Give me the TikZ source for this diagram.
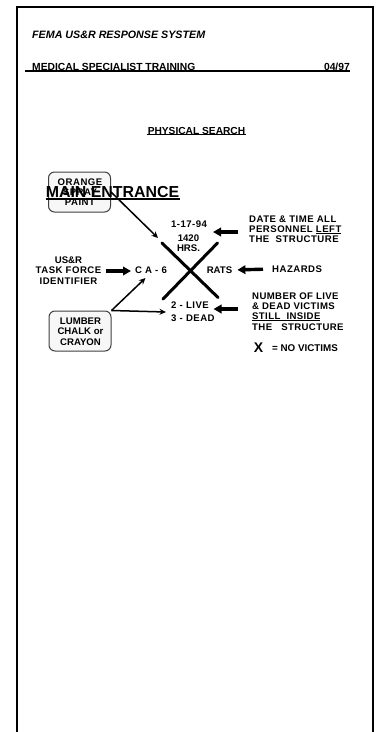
\documentclass[tikz,border=0pt]{standalone}
\usepackage{fontspec}
\setmainfont{Liberation Sans}
\usetikzlibrary{arrows.meta}
\tikzset{
  x=1pt,y=-1pt,
  lbl/.style={font=\bfseries\fontsize{9.6}{10.3}\selectfont,inner sep=0pt,align=center,text=black},
  rlbl/.style={font=\bfseries\fontsize{9.6}{10.2}\selectfont,inner sep=0pt,align=left,anchor=north west,text=black},
  hdr/.style={font=\bfseries\fontsize{10.3}{10.3}\selectfont,inner sep=0pt},
  rbox/.style={draw=black!75,line width=1pt,rounded corners=6pt,fill=black!3,minimum width=62pt,minimum height=40pt,inner sep=0pt},
  thick arrow/.style={line width=3.4pt,-{Triangle[length=8pt,width=8.5pt]}},
  thin arrow/.style={line width=1.5pt,-{Stealth[length=6.5pt,width=6pt]}},
  xstroke/.style={line width=3pt,line cap=round},
  rule/.style={line width=1.7pt}
}
\newcommand{\trk}[1]{{\addfontfeatures{LetterSpace=5}#1}}
\newcommand{\trkr}[1]{{\addfontfeatures{LetterSpace=4}#1}}
\newsavebox{\ulbox}
\newcommand{\tightul}[1]{\sbox{\ulbox}{#1}\rlap{\rule[-1.2pt]{\wd\ulbox}{0.7pt}}\usebox{\ulbox}}
\begin{document}
\begin{tikzpicture}
\useasboundingbox (0,0) rectangle (380,732);
\draw[line width=2pt] (17,734) -- (17,7) -- (372.6,7) -- (372.6,734);
% header
\node[anchor=west,inner sep=0pt,font=\bfseries\itshape\fontsize{10.7}{11}\selectfont] (fema) at (32,35) {FEMA US\&R RESPONSE SYSTEM};
\node[hdr,anchor=west] (med) at (32,67) {MEDICAL SPECIALIST TRAINING};
\node[hdr,anchor=east] (date) at (350,67) {04/97};
\draw[rule] (25,70.7) -- (350,70.7);
% title
\node[inner sep=0pt,font=\bfseries\fontsize{10.2}{10.2}\selectfont] (phys) at (196.5,131) {PHYSICAL SEARCH};
\draw[line width=1pt] (146.5,134.6) -- (246,134.6);
% boxes
\node[rbox] (orange) at (79.5,192) {};
\node[lbl] (orangetxt) at (80,192) {\trk{ORANGE}\\\trk{SPRAY}\\\trk{PAINT}};
\node[rbox] (lumber) at (80,331) {};
\node[lbl] (lumbertxt) at (80.5,331.5) {LUMBER\\CHALK or\\CRAYON};
\node[inner sep=0pt,font=\bfseries\fontsize{15.9}{16}\selectfont] (main) at (112.5,192.5) {MAIN ENTRANCE};
\draw[rule] (46,199.3) -- (180,199.3);
% X
\coordinate (xa) at (162,243); \coordinate (xb) at (218,297.5);
\coordinate (xc) at (217.5,243); \coordinate (xd) at (163,299);
\draw[xstroke] (xa) -- (xb);
\draw[xstroke] (xc) -- (xd);
% centre labels
\node[lbl] (dt) at (189,224) {\trk{1-17-94}};
\node[lbl] (hrs) at (188.5,243.5) {1420\\HRS.};
\node[lbl] (ca) at (151,270.5) {\trk{C A - 6}};
\node[lbl] (rats) at (219.5,270) {RATS};
\node[lbl,anchor=west] (live) at (171,305) {\trk{2 - LIVE}};
\node[lbl,anchor=west] (dead) at (171,318) {\trk{3 - DEAD}};
% left labels
\node[lbl] (usr) at (68.5,270.5) {US\&R\\\trk{TASK FORCE}\\\trk{IDENTIFIER}};
% right labels
\node[rlbl] (r1) at (249,215.5) {\trk{DATE \& TIME ALL}\\\trk{PERSONNEL \tightul{LEFT}}\\\trk{THE \ STRUCTURE}};
\node[lbl,anchor=west] (haz) at (272,269) {\trk{HAZARDS}};
\node[rlbl] (r2) at (252,292.5) {\trkr{NUMBER OF LIVE}\\\trkr{\& DEAD VICTIMS}\\\trkr{\tightul{STILL \ INSIDE}}\\\trkr{THE \ \ STRUCTURE}};
\node[inner sep=0pt,font=\bfseries\fontsize{14}{14}\selectfont] (xm) at (258.5,347.5) {X};
\node[anchor=west,inner sep=0pt,font=\bfseries\fontsize{9.8}{10}\selectfont] (nov) at (272,348.5) {= NO VICTIMS};
% arrows
\coordinate (a1s) at (238,232); \coordinate (a1e) at (213,232);
\coordinate (a3s) at (238,309); \coordinate (a3e) at (213.5,309);
\draw[thick arrow] (a1s) -- (a1e);
\draw[thick arrow,shorten <=9pt,shorten >=5pt] (haz.west) -- (rats.east);
\draw[thick arrow] (a3s) -- (a3e);
\coordinate (a4s) at (106,271); \coordinate (a4e) at (131,271);
\draw[thick arrow] (a4s) -- (a4e);
\coordinate (e1) at (158,238);
\coordinate (e2) at (145.5,278);
\coordinate (e3) at (166,312);
\draw[thin arrow] (orange.east) -- (e1);
\draw[thin arrow] (lumber.north east) -- (e2);
\draw[thin arrow] (lumber.north east) -- (e3);
\end{tikzpicture}
\end{document}
